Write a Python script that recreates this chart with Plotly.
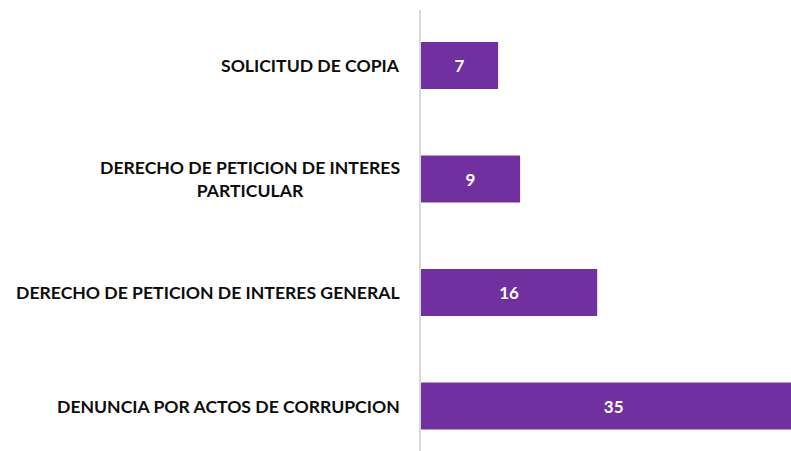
import plotly.graph_objects as go

categories = [
    "DENUNCIA POR ACTOS DE CORRUPCION",
    "DERECHO DE PETICION DE INTERES GENERAL",
    "DERECHO DE PETICION DE INTERES<br>PARTICULAR",
    "SOLICITUD DE COPIA",
]
values = [35, 16, 9, 7]

BAR_COLOR = "#7030A0"
FONT = "Lato"

fig = go.Figure(
    go.Bar(
        x=values,
        y=categories,
        orientation="h",
        marker=dict(color=BAR_COLOR, line=dict(width=0)),
        text=[str(v) for v in values],
        textposition="inside",
        insidetextanchor="middle",
        textangle=0,
        textfont=dict(family=FONT, size=17, color="white", weight="bold"),
        cliponaxis=True,
        hoverinfo="skip",
    )
)

for c in categories:
    fig.add_annotation(
        x=0, xref="paper", y=c, yref="y",
        text=c, showarrow=False,
        xanchor="right", yanchor="middle", align="center",
        xshift=-19,
        font=dict(family=FONT, size=17.6, color="#0d0d0d", weight="bold"),
    )

fig.update_layout(
    width=791, height=451,
    margin=dict(l=421, r=0, t=10, b=0),
    paper_bgcolor="white", plot_bgcolor="white",
    bargap=0.586,
    showlegend=False,
    uniformtext=dict(minsize=8, mode="show"),
)
fig.update_xaxes(range=[0, 33.6], visible=False, showgrid=False, zeroline=False)
fig.update_yaxes(
    type="category", categoryorder="array", categoryarray=categories,
    range=[-0.396, 3.489], showticklabels=False, showgrid=False, zeroline=False,
    showline=True, linecolor="#d9d9d9", linewidth=2, ticks="",
)

fig.write_html(
    "out.html",
    config={"displayModeBar": False},
    post_script="document.body.style.margin='0';document.body.style.overflow='hidden';",
)
